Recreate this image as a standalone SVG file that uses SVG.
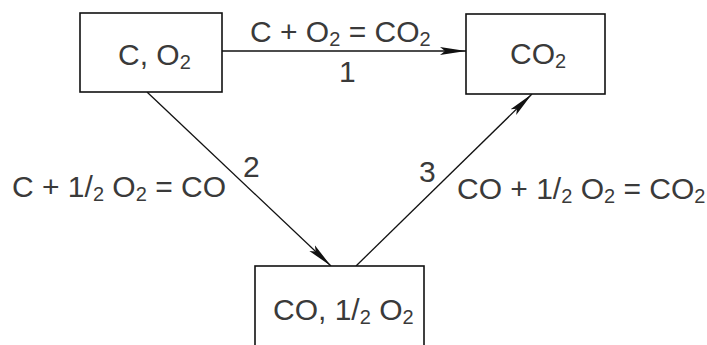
<svg xmlns="http://www.w3.org/2000/svg" width="707" height="345" viewBox="0 0 707 345">
<style>
.box{fill:#fff;stroke:#111;stroke-width:1.6}
.t{font-family:"Liberation Sans",Arial,sans-serif;font-size:30px;fill:#3a3a3a}
.s{font-size:20px}
.c{fill:none;stroke:#111;stroke-width:1.3}
</style>
<defs>
<marker id="ah" markerUnits="userSpaceOnUse" markerWidth="30" markerHeight="12" refX="26" refY="5" orient="auto" viewBox="0 0 30 12">
<path d="M0,1 L26,5 L0,9 L5,5 Z" fill="#111"/>
</marker>
</defs>
<rect width="707" height="345" fill="#fff"/>
<g id="connectors">
<line class="c" x1="222" y1="51" x2="466" y2="51" marker-end="url(#ah)"/>
<line class="c" x1="147" y1="92" x2="331" y2="266" marker-end="url(#ah)"/>
<line class="c" x1="356" y1="266" x2="532" y2="94" marker-end="url(#ah)"/>
</g>
<g id="node-c-o2">
<rect class="box" x="80" y="13" width="142" height="79"/>
<text class="t" x="118" y="65">C, O<tspan class="s" dy="4">2</tspan></text>
</g>
<g id="node-co2">
<rect class="box" x="466" y="14" width="139" height="80"/>
<text class="t" x="510" y="64">CO<tspan class="s" dy="4">2</tspan></text>
</g>
<g id="node-co-half-o2">
<rect class="box" x="255" y="266" width="169" height="90"/>
<text class="t" x="273" y="320">CO, 1/<tspan class="s" dy="4">2</tspan><tspan dy="-4"> O</tspan><tspan class="s" dy="4">2</tspan></text>
</g>
<g id="labels">
<text class="t" x="250" y="42">C + O<tspan class="s" dy="4">2</tspan><tspan dy="-4"> = CO</tspan><tspan class="s" dy="4">2</tspan></text>
<text class="t" x="339" y="82">1</text>
<text class="t" x="12" y="197">C + 1/<tspan class="s" dy="4">2</tspan><tspan dy="-4"> O</tspan><tspan class="s" dy="4">2</tspan><tspan dy="-4"> = CO</tspan></text>
<text class="t" x="243" y="177">2</text>
<text class="t" x="419" y="182">3</text>
<text class="t" x="457" y="199">CO + 1/<tspan class="s" dy="4">2</tspan><tspan dy="-4"> O</tspan><tspan class="s" dy="4">2</tspan><tspan dy="-4"> = CO</tspan><tspan class="s" dy="4">2</tspan></text>
</g>
</svg>
